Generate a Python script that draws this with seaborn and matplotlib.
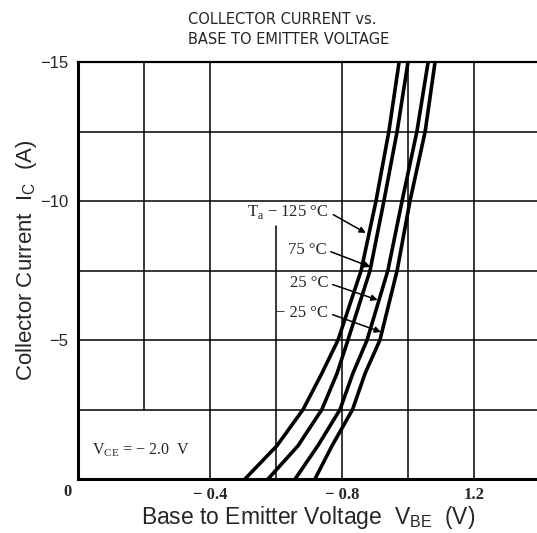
import matplotlib
matplotlib.use("Agg")
import matplotlib.pyplot as plt
import seaborn as sns
import pandas as pd

# valori: curentul de colector Ic (A) si tensiunea Vbe (V)
ic = [0, -1.2, -2.5, -3.8, -5, -7.5, -10, -12.5, -15]
vbe_125 = [-0.506, -0.603, -0.682, -0.739, -0.788, -0.858, -0.903, -0.942, -0.973]
vbe_75 = [-0.576, -0.667, -0.739, -0.785, -0.818, -0.885, -0.927, -0.967, -1.000]
vbe_25 = [-0.658, -0.727, -0.794, -0.833, -0.876, -0.939, -0.982, -1.027, -1.061]
vbe_m25 = [-0.718, -0.770, -0.832, -0.870, -0.915, -0.967, -1.006, -1.052, -1.082]
temps = ["125", "75", "25", "-25"]

x_ticks = [-0.4, -0.8, -1.2]
x_tick_labels = ["\u2212 0.4", "\u2212 0.8", "1.2"]
y_ticks = [0, -5, -10, -15]
y_tick_labels = ["", "\u22125", "\u221210", "\u221215"]

# construiesc tabelul lung pentru seaborn
rows = []
for t, vals in zip(temps, [vbe_125, vbe_75, vbe_25, vbe_m25]):
    for v, i in zip(vals, ic):
        rows.append({"vbe": v, "ic": i, "temp": t})
df = pd.DataFrame(rows)

sns.set_style("white")
plt.rcParams["mathtext.fontset"] = "custom"
plt.rcParams["mathtext.rm"] = "Liberation Serif"
plt.rcParams["mathtext.sf"] = "Liberation Sans"

fig = plt.figure(figsize=(5.37, 5.33), dpi=100)
ax = fig.add_axes([78 / 537, 54 / 533, 459 / 537, 417 / 533])

sns.lineplot(data=df, x="vbe", y="ic", hue="temp", palette=["black"] * 4,
             sort=False, linewidth=2.6, legend=False, ax=ax)

ax.set_xlim(0, -459 / 330)
ax.set_ylim(0, -15)

# grila (unele linii sunt doar partial desenate in original)
for xv in [-0.4, -0.8, -1.0, -1.2]:
    ax.axvline(xv, color="black", lw=1.1, zorder=1)
ax.axvline(-0.2, ymin=2.5 / 15, ymax=1, color="black", lw=1.1, zorder=1)
ax.axvline(-0.6, ymin=0, ymax=9.1 / 15, color="black", lw=1.1, zorder=1)
for yv in [-2.5, -5, -7.5, -10, -12.5]:
    ax.axhline(yv, color="black", lw=1.1, zorder=1)

for side in ["left", "bottom"]:
    ax.spines[side].set_linewidth(2.2)
    ax.spines[side].set_color("black")
ax.spines["top"].set_linewidth(1.6)
ax.spines["top"].set_color("black")
ax.spines["right"].set_visible(False)

ax.set_xticks(x_ticks)
ax.set_xticklabels(x_tick_labels, family="Liberation Serif", fontweight="bold", fontsize=12)
ax.set_yticks(y_ticks)
ax.set_yticklabels(y_tick_labels, family="Liberation Sans", fontsize=12)
ax.tick_params(length=0)
ax.tick_params(axis="x", pad=6)
ax.tick_params(axis="y", pad=7)
ax.set_xlabel("")
ax.set_ylabel("")

fig.text(67 / 537, 1 - 492 / 533, "0", family="Liberation Serif", fontweight="bold",
         fontsize=12, ha="center", va="center")

# etichetele de temperatura cu sageti
ann = [
    ("T$_{\\mathrm{a}}$ \u2212 125 \u00b0C", (-0.76, -9.6), (-0.872, -8.85)),
    ("75 \u00b0C", (-0.752, -8.24), (-0.886, -7.63)),
    ("25 \u00b0C", (-0.758, -7.05), (-0.908, -6.44)),
    ("\u2212 25 \u00b0C", (-0.758, -5.97), (-0.918, -5.29)),
]
for txt, xyt, xy in ann:
    ax.annotate(txt, xy=xy, xytext=xyt, ha="right", va="center",
                family="Liberation Serif", fontsize=12,
                arrowprops=dict(arrowstyle="-|>", color="black", lw=1.1,
                                mutation_scale=9, relpos=(1, 0.5),
                                shrinkA=1, shrinkB=0))

ax.text(-0.042, -1.04, "V$_{\\mathrm{CE}}$ = \u2212 2.0  V", family="Liberation Serif",
        fontsize=11.5, ha="left", va="center")

# titlu si etichete axe
fig.text(188 / 537, 1 - 19 / 533, "COLLECTOR CURRENT vs.", family="DejaVu Sans",
         fontsize=10.5, ha="left", va="center")
fig.text(188 / 537, 1 - 40 / 533, "BASE TO EMITTER VOLTAGE", family="DejaVu Sans",
         fontsize=10.5, ha="left", va="center")
fig.text(308 / 537, 9 / 533, "Base to Emitter Voltage  V$_{\\mathsf{BE}}$  (V)",
         family="Liberation Sans", fontsize=16.5, ha="center", va="baseline")
fig.text(27 / 537, 1 - 260 / 533, "Collector Current  I$_{\\mathsf{C}}$  (A)",
         family="Liberation Sans", fontsize=16, ha="center", va="center", rotation=90)

fig.savefig("out.png", dpi=100)
